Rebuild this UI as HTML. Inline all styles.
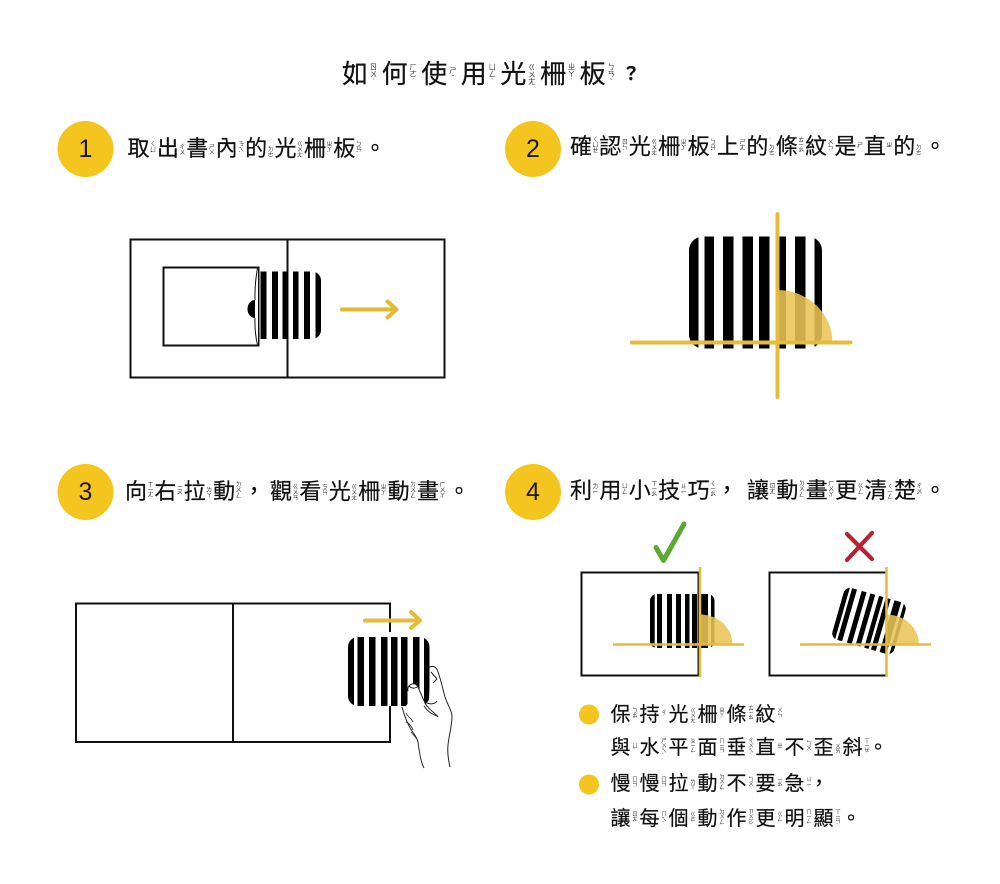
<!DOCTYPE html>
<html lang="zh-Hant"><head><meta charset="utf-8">
<style>
html,body{margin:0;padding:0;background:#fff}
#p{position:relative;width:1000px;height:884px;overflow:hidden;background:#fff;font-family:"Liberation Sans","Noto Sans CJK TC",sans-serif;color:#111;font-weight:400;-webkit-text-stroke:.2px #111}
svg{position:absolute;left:0;top:0}
.l{position:absolute;white-space:nowrap;display:block}
.c{display:inline-block;position:relative;text-align:left}
.c i{position:absolute;font-style:normal;font-weight:400;-webkit-text-stroke:0;writing-mode:vertical-rl;text-orientation:upright;color:#333;line-height:1;letter-spacing:-.5px;top:50%;transform:translateY(-50%);white-space:nowrap}
.h{font-size:22px;line-height:22px}.h .c{width:29.4px;height:22px}.h .c i{left:21px;font-size:6px}
.t{font-size:26px;line-height:26px}.t .c{width:39.6px;height:26px}.t .c i{left:27.5px;font-size:7.5px}
.b{font-size:20px;line-height:20px}.b .c{width:29px;height:20px}.b .c i{left:20px;font-size:5.5px}
.p{position:absolute;line-height:1}
.n{position:absolute;font-size:25px;line-height:28px;width:56px;text-align:center;font-family:"Liberation Sans",sans-serif;font-weight:400;color:#1a1a1a;-webkit-text-stroke:0}
</style></head><body><div id="p">
<svg width="1000" height="884" viewBox="0 0 1000 884" xmlns="http://www.w3.org/2000/svg">
<defs>
<clipPath id="c1"><rect x="250" y="271.5" width="71" height="67.5" rx="9"/></clipPath>
<clipPath id="c2"><rect x="689" y="236.5" width="133" height="112" rx="14"/></clipPath>
<clipPath id="c3"><rect x="348" y="637" width="81.5" height="69" rx="10"/></clipPath>
<clipPath id="c4"><rect x="650" y="594" width="64.5" height="54" rx="7"/></clipPath>
<g id="st4"><rect x="650" y="594" width="4.7" height="54"/><rect x="657" y="594" width="5" height="54"/><rect x="667" y="594" width="5" height="54"/><rect x="676" y="594" width="5" height="54"/><rect x="685" y="594" width="4.5" height="54"/><rect x="692" y="594" width="5" height="54"/><rect x="701" y="594" width="7" height="54"/><rect x="711" y="594" width="3.5" height="54"/></g>
</defs>
<circle cx="85.5" cy="149" r="28" fill="#f5c51f"/><circle cx="533" cy="149" r="28" fill="#f5c51f"/><circle cx="85.5" cy="492" r="28" fill="#f5c51f"/><circle cx="533" cy="492" r="28" fill="#f5c51f"/>

<!-- diagram 1 -->
<rect x="130.5" y="239.5" width="314" height="138" fill="none" stroke="#111" stroke-width="2"/>
<line x1="287.5" y1="239" x2="287.5" y2="378" stroke="#111" stroke-width="2"/>
<g clip-path="url(#c1)" fill="#000"><rect x="260.5" y="271" width="6" height="69"/><rect x="272" y="271" width="6" height="69"/><rect x="282.5" y="271" width="5.5" height="69"/><rect x="293" y="271" width="5.5" height="69"/><rect x="304" y="271" width="6" height="69"/><rect x="315.5" y="271" width="6" height="69"/></g>
<rect x="163.5" y="267.5" width="95" height="78" fill="#fff" stroke="#111" stroke-width="2"/>
<path d="M258 267 Q254 288 254.5 300 A8 9 0 0 0 254.5 317 Q254 332 258 345" fill="#fff" stroke="none"/>
<path d="M255 300 A7.5 9 0 0 0 255 318 Z" fill="#000"/>
<path d="M257.5 268 Q254.5 285 255 300 M255 318 Q254.5 332 257.5 345" fill="none" stroke="#111" stroke-width="1"/>
<path d="M342 309.5H396M387.5 301.5L396.5 309.5L387.5 317.5" fill="none" stroke="#e2b933" stroke-width="4" stroke-linecap="round" stroke-linejoin="round"/>

<!-- diagram 2 -->
<g clip-path="url(#c2)" fill="#000"><rect x="689" y="236" width="9.5" height="113"/><rect x="704.5" y="236" width="9.5" height="113"/><rect x="723" y="236" width="10.5" height="113"/><rect x="742.5" y="236" width="10.5" height="113"/><rect x="759" y="236" width="10.5" height="113"/><rect x="779" y="236" width="7" height="113"/><rect x="795" y="236" width="10.5" height="113"/><rect x="814.5" y="236" width="7.5" height="113"/></g>
<path d="M777.5 342.5V290A55 52.5 0 0 1 832.5 342.5Z" fill="#e8c455" fill-opacity=".88"/>
<line x1="632" y1="342.5" x2="850.5" y2="342.5" stroke="#e3bc3a" stroke-width="4" stroke-linecap="round"/>
<line x1="777.5" y1="214" x2="777.5" y2="397" stroke="#e3bc3a" stroke-width="4" stroke-linecap="round"/>

<!-- diagram 3 -->
<rect x="76" y="603.5" width="314" height="138.5" fill="none" stroke="#111" stroke-width="2"/>
<line x1="233" y1="603" x2="233" y2="742" stroke="#111" stroke-width="2"/>
<rect x="348" y="632" width="82" height="74" fill="#fff"/>
<path d="M365 620.5H419M411 612L420 620.5L411 628" fill="none" stroke="#e3bc3a" stroke-width="4" stroke-linecap="round" stroke-linejoin="round"/>
<g clip-path="url(#c3)" fill="#000"><rect x="348" y="637" width="6" height="69"/><rect x="357.5" y="637" width="6.5" height="69"/><rect x="369" y="637" width="6.5" height="69"/><rect x="381" y="637" width="6.5" height="69"/><rect x="391" y="637" width="6.5" height="69"/><rect x="401" y="637" width="6.5" height="69"/><rect x="413" y="637" width="6.5" height="69"/><rect x="424" y="637" width="5.5" height="69"/></g>
<path d="M402 707L406 728L417 742L421 770L440 770L447 757L450 733L452 716L445 697L441 678L436 667L430 667L429 705L425 704L418 686L416 684L411 684L408 688L410 700L406 706Z" fill="#fff"/>
<path d="M429.5 667C434 665 437 668 438 672C441 680 443 690 445 697C448 706 452 711 452 716C452 726 449 735 448 745C447 755 449 762 450 767" fill="none" stroke="#222" stroke-width="1"/>
<path d="M431 672L437 679M437 679L433 683M427 703C432 705 436 703 437 701M424 706C428 712 432 714 437 716" fill="none" stroke="#222" stroke-width="1"/>
<path d="M408 691C407 686 411 683 415 684C418 685 419 690 421 694C424 700 425 705 428 707C431 711 436 714 438 717" fill="none" stroke="#222" stroke-width="1"/>
<path d="M409 686C411 688 414 689 417 687" fill="none" stroke="#222" stroke-width="1"/>
<path d="M402 707C405 718 408 725 412 731C415 735 417 738 418 742C419 750 421 763 424 768" fill="none" stroke="#222" stroke-width="1"/>
<path d="M406 713C408 717 412 719 413 722M406 722C409 723 412 727 413 730M411 732L417 739" fill="none" stroke="#222" stroke-width=".8"/>

<!-- diagram 4 -->
<path d="M656 547.5L663.5 560.5L684 524" fill="none" stroke="#5ba92f" stroke-width="5" stroke-linecap="round" stroke-linejoin="round"/>
<path d="M847 534L872 559M872 533L847 560" fill="none" stroke="#b5232e" stroke-width="4.2" stroke-linecap="round"/>
<rect x="581.5" y="572.5" width="117" height="103" fill="none" stroke="#111" stroke-width="2"/>
<rect x="769.5" y="572.5" width="117" height="103" fill="none" stroke="#111" stroke-width="2"/>
<g clip-path="url(#c4)" fill="#000"><use href="#st4"/></g>
<g transform="translate(186.75 0) rotate(16 682.25 621)"><g clip-path="url(#c4)" fill="#000"><use href="#st4"/></g></g>
<path d="M700 644.5V614.5A32.5 30 0 0 1 732.5 644.5Z" fill="#e8c455" fill-opacity=".88"/>
<path d="M886.5 644.5V614.5A32.5 30 0 0 1 919 644.5Z" fill="#e8c455" fill-opacity=".88"/>
<line x1="613" y1="644.5" x2="744" y2="644.5" stroke="#e3bc3a" stroke-width="2.5"/>
<line x1="700" y1="567" x2="700" y2="677" stroke="#e3bc3a" stroke-width="2.5"/>
<line x1="800" y1="644.5" x2="931" y2="644.5" stroke="#e3bc3a" stroke-width="2.5"/>
<line x1="886.5" y1="567" x2="886.5" y2="677" stroke="#e3bc3a" stroke-width="2.5"/>
<circle cx="589" cy="714.5" r="10" fill="#f5c51f"/><circle cx="589" cy="784.5" r="10" fill="#f5c51f"/>
</svg>

<div class="n" style="left:57.5px;top:135px">1</div><div class="n" style="left:505px;top:135px">2</div><div class="n" style="left:57.5px;top:478px">3</div><div class="n" style="left:505px;top:478px">4</div>

<div class="l t" style="left:342px;top:61px"><span class="c">如<i>ㄖㄨˊ</i></span><span class="c">何<i>ㄏㄜˊ</i></span><span class="c">使<i>ㄕˇ</i></span><span class="c">用<i>ㄩㄥˋ</i></span><span class="c">光<i>ㄍㄨㄤ</i></span><span class="c">柵<i>ㄓㄚˋ</i></span><span class="c">板<i>ㄅㄢˇ</i></span></div>
<span class="p" style="left:622px;top:65px;font-size:18px;font-weight:700;">？</span>

<div class="l h" style="left:127.5px;top:138px"><span class="c">取<i>ㄑㄩˇ</i></span><span class="c">出<i>ㄔㄨ</i></span><span class="c">書<i>ㄕㄨ</i></span><span class="c">內<i>ㄋㄟˋ</i></span><span class="c">的<i>˙ㄉㄜ</i></span><span class="c">光<i>ㄍㄨㄤ</i></span><span class="c">柵<i>ㄓㄚˋ</i></span><span class="c">板<i>ㄅㄢˇ</i></span></div>
<span class="p" style="left:364px;top:138px;font-size:22px">。</span>

<div class="l h" style="left:570px;top:136px"><span class="c">確<i>ㄑㄩㄝˋ</i></span><span class="c">認<i>ㄖㄣˋ</i></span><span class="c">光<i>ㄍㄨㄤ</i></span><span class="c">柵<i>ㄓㄚˋ</i></span><span class="c">板<i>ㄅㄢˇ</i></span><span class="c">上<i>ㄕㄤˋ</i></span><span class="c">的<i>˙ㄉㄜ</i></span><span class="c">條<i>ㄊㄧㄠˊ</i></span><span class="c">紋<i>ㄨㄣˊ</i></span><span class="c">是<i>ㄕˋ</i></span><span class="c">直<i>ㄓˊ</i></span><span class="c">的<i>˙ㄉㄜ</i></span></div>
<span class="p" style="left:924px;top:136px;font-size:22px">。</span>

<div class="l h" style="left:125px;top:481px"><span class="c">向<i>ㄒㄧㄤˋ</i></span><span class="c">右<i>ㄧㄡˋ</i></span><span class="c">拉<i>ㄌㄚ</i></span><span class="c">動<i>ㄉㄨㄥˋ</i></span></div>
<span class="p" style="left:243px;top:481px;font-size:22px">，</span>
<div class="l h" style="left:270px;top:481px"><span class="c">觀<i>ㄍㄨㄢ</i></span><span class="c">看<i>ㄎㄢˋ</i></span><span class="c">光<i>ㄍㄨㄤ</i></span><span class="c">柵<i>ㄓㄚˋ</i></span><span class="c">動<i>ㄉㄨㄥˋ</i></span><span class="c">畫<i>ㄏㄨㄚˋ</i></span></div>
<span class="p" style="left:448px;top:481px;font-size:22px">。</span>

<div class="l h" style="left:570px;top:480px"><span class="c">利<i>ㄌㄧˋ</i></span><span class="c">用<i>ㄩㄥˋ</i></span><span class="c">小<i>ㄒㄧㄠˇ</i></span><span class="c">技<i>ㄐㄧˋ</i></span><span class="c">巧<i>ㄑㄧㄠˇ</i></span></div>
<span class="p" style="left:716px;top:480px;font-size:22px">，</span>
<div class="l h" style="left:747px;top:480px"><span class="c">讓<i>ㄖㄤˋ</i></span><span class="c">動<i>ㄉㄨㄥˋ</i></span><span class="c">畫<i>ㄏㄨㄚˋ</i></span><span class="c">更<i>ㄍㄥˋ</i></span><span class="c">清<i>ㄑㄧㄥ</i></span><span class="c">楚<i>ㄔㄨˇ</i></span></div>
<span class="p" style="left:924px;top:480px;font-size:22px">。</span>

<div class="l b" style="left:610.5px;top:705px"><span class="c">保<i>ㄅㄠˇ</i></span><span class="c">持<i>ㄔˊ</i></span><span class="c">光<i>ㄍㄨㄤ</i></span><span class="c">柵<i>ㄓㄚˋ</i></span><span class="c">條<i>ㄊㄧㄠˊ</i></span><span class="c">紋<i>ㄨㄣˊ</i></span></div>
<div class="l b" style="left:610.5px;top:738px"><span class="c">與<i>ㄩˇ</i></span><span class="c">水<i>ㄕㄨㄟˇ</i></span><span class="c">平<i>ㄆㄧㄥˊ</i></span><span class="c">面<i>ㄇㄧㄢˋ</i></span><span class="c">垂<i>ㄔㄨㄟˊ</i></span><span class="c">直<i>ㄓˊ</i></span><span class="c">不<i>ㄅㄨˋ</i></span><span class="c">歪<i>ㄨㄞ</i></span><span class="c">斜<i>ㄒㄧㄝˊ</i></span></div>
<span class="p" style="left:868px;top:738px;font-size:20px">。</span>
<div class="l b" style="left:610.5px;top:774px"><span class="c">慢<i>ㄇㄢˋ</i></span><span class="c">慢<i>ㄇㄢˋ</i></span><span class="c">拉<i>ㄌㄚ</i></span><span class="c">動<i>ㄉㄨㄥˋ</i></span><span class="c">不<i>ㄅㄨˋ</i></span><span class="c">要<i>ㄧㄠˋ</i></span><span class="c">急<i>ㄐㄧˊ</i></span></div>
<span class="p" style="left:809px;top:774px;font-size:20px">，</span>
<div class="l b" style="left:610.5px;top:809px"><span class="c">讓<i>ㄖㄤˋ</i></span><span class="c">每<i>ㄇㄟˇ</i></span><span class="c">個<i>ㄍㄜˋ</i></span><span class="c">動<i>ㄉㄨㄥˋ</i></span><span class="c">作<i>ㄗㄨㄛˋ</i></span><span class="c">更<i>ㄍㄥˋ</i></span><span class="c">明<i>ㄇㄧㄥˊ</i></span><span class="c">顯<i>ㄒㄧㄢˇ</i></span></div>
<span class="p" style="left:841px;top:809px;font-size:20px">。</span>
</div></body></html>
